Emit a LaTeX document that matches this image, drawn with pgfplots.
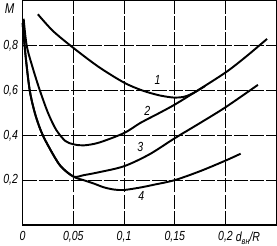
\documentclass[border=0pt]{standalone}
\usepackage{fontspec}
\setmainfont{Liberation Sans}[FakeStretch=0.8]
\usepackage{pgfplots}
\pgfplotsset{compat=1.18}
\begin{document}
\begin{tikzpicture}
\begin{axis}[
  width=250pt, height=221pt, scale only axis,
  xmin=0, xmax=0.25, ymin=0, ymax=1,
  xtick={0,0.05,0.1,0.15,0.2},
  xticklabels={0,{0,05},{0,1},{0,15},{0,2}},
  ytick={0.2,0.4,0.6,0.8},
  yticklabels={{0,2},{0,4},{0,6},{0,8}},
  major tick length=0pt,
  grid=major,
  major grid style={black, line width=0.7pt, dash pattern=on 14pt off 2pt},
  axis line style={line width=0.7pt},
  tick label style={font=\fontsize{13}{13}\selectfont\itshape},
  xticklabel style={yshift=-3pt},
  yticklabel style={xshift=-1pt},
  clip=false,
]
% curve 1
\addplot[black, line width=1.9pt, smooth] coordinates {
 (0.015,0.94) (0.03,0.865) (0.05,0.79) (0.075,0.705) (0.1,0.635)
 (0.118,0.6) (0.135,0.578) (0.15,0.568) (0.16,0.573) (0.169,0.59) (0.18,0.62)};
% curve 2
\addplot[black, line width=1.9pt, smooth] coordinates {
 (0.001,0.92) (0.004,0.8) (0.01,0.7) (0.017,0.6) (0.025,0.5) (0.033,0.425)
 (0.042,0.375) (0.05,0.36) (0.06,0.355) (0.075,0.367) (0.1,0.41) (0.116,0.455)
 (0.135,0.5) (0.15,0.537) (0.169,0.59) (0.2,0.68) (0.22,0.75) (0.241,0.83)};
% curve 3
\addplot[black, line width=1.9pt, smooth] coordinates {
 (0.0,0.9) (0.003,0.75) (0.007,0.6) (0.012,0.5) (0.018,0.42) (0.025,0.355)
 (0.037,0.265) (0.05,0.216) (0.06,0.222) (0.075,0.235) (0.1,0.262)
 (0.125,0.315) (0.15,0.387) (0.175,0.455) (0.2,0.525) (0.232,0.625)};
% curve 4
\addplot[black, line width=1.9pt, smooth] coordinates {
 (0.0,0.9) (0.003,0.75) (0.007,0.6) (0.012,0.5) (0.018,0.42) (0.025,0.355)
 (0.037,0.265) (0.05,0.216) (0.06,0.2) (0.07,0.185) (0.08,0.168) (0.09,0.158)
 (0.1,0.156) (0.116,0.167) (0.13,0.18) (0.15,0.2) (0.175,0.24) (0.2,0.287) (0.215,0.318)};
\draw[line width=1.6pt] (rel axis cs:0,1) -- (rel axis cs:0,0) -- (rel axis cs:1,0);
\node[font=\fontsize{13}{13}\selectfont\itshape] at (axis cs:0.133,0.645) {1};
\node[font=\fontsize{13}{13}\selectfont\itshape] at (axis cs:0.123,0.51) {2};
\node[font=\fontsize{13}{13}\selectfont\itshape] at (axis cs:0.116,0.35) {3};
\node[font=\fontsize{13}{13}\selectfont\itshape] at (axis cs:0.117,0.13) {4};
\node[font=\fontsize{14}{14}\selectfont\itshape, anchor=north east, inner sep=0pt] at (rel axis cs:0,1) [xshift=-8pt, yshift=-3pt] {M};
\node[font=\fontsize{13}{13}\selectfont\itshape, anchor=north west, inner sep=0pt] at (axis cs:0.2,0) [xshift=10pt, yshift=-7pt] {d\raisebox{-0.45ex}{\fontsize{9}{9}\selectfont вн}/R};
\end{axis}
\end{tikzpicture}
\end{document}
